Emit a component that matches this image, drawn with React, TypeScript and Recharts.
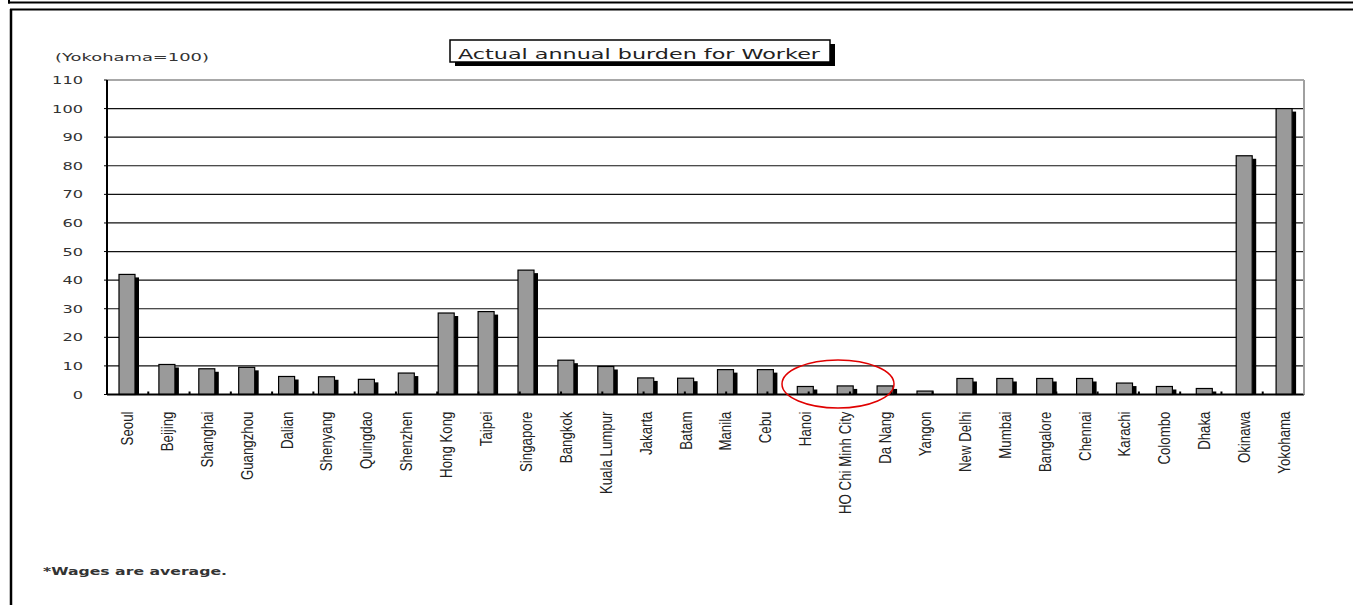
import { Bar, BarChart, CartesianGrid, ReferenceLine, XAxis, YAxis } from "recharts";

const cities = [
  "Seoul", "Beijing", "Shanghai", "Guangzhou", "Dalian", "Shenyang", "Quingdao", "Shenzhen",
  "Hong Kong", "Taipei", "Singapore", "Bangkok", "Kuala Lumpur", "Jakarta", "Batam", "Manila",
  "Cebu", "Hanoi", "HO Chi Minh City", "Da Nang", "Yangon", "New Delhi", "Mumbai", "Bangalore",
  "Chennai", "Karachi", "Colombo", "Dhaka", "Okinawa", "Yokohama"
];

// Yokohama = 100
const burden = [
  42, 10.5, 9, 9.5, 6.3, 6.2, 5.3, 7.5,
  28.5, 29, 43.5, 12, 9.8, 5.8, 5.7, 8.7,
  8.7, 2.8, 3, 3, 1.2, 5.6, 5.6, 5.6,
  5.6, 4, 2.8, 2.1, 83.5, 100
];

const yTicks = [0, 10, 20, 30, 40, 50, 60, 70, 80, 90, 100, 110];
// category boundaries, used for the little tick marks between bars
const boundaryTicks = [1, 2, 3, 4, 5, 6, 7, 8, 9, 10, 11, 12, 13, 14, 15, 16, 17, 18, 19, 20, 21, 22, 23, 24, 25, 26, 27, 28, 29];

const data = cities.map((city, i) => ({ city, value: burden[i] }));

const W = 1353;
const H = 605;

function ShadowBar(props: any) {
  const { x, y, width, height } = props;
  if (!height || height <= 0) return <g />;
  const sy = Math.min(3, height);
  return (
    <g>
      <rect x={x + width} y={y + sy} width={4} height={Math.max(0, height - sy)} fill="#000" />
      <rect x={x} y={y} width={width} height={height} fill="#9a9a9a" stroke="#000" strokeWidth={1.2} />
    </g>
  );
}

function CityTick(props: any) {
  const { x, y, payload } = props;
  return (
    <text
      transform={`translate(${x + 6},${y + 9}) rotate(-90) scale(0.83,1)`}
      textAnchor="end"
      fontSize={16}
      fontFamily="'Liberation Sans', Arial, sans-serif"
      fill="#222"
    >
      {payload.value}
    </text>
  );
}

function ValueTick(props: any) {
  const { x, y, payload } = props;
  const label = String(payload.value);
  return (
    <text
      x={x}
      y={y}
      dy={4}
      textAnchor="end"
      fontSize={11}
      fontFamily="'DejaVu Sans', sans-serif"
      fill="#333"
      textLength={label.length * 10.3}
      lengthAdjust="spacingAndGlyphs"
    >
      {label}
    </text>
  );
}

const Empty = () => <g />;

export default function App() {
  return (
    <div style={{ position: "absolute", left: 0, top: 0, width: W, height: H, background: "#fff" }}>
      <BarChart width={W} height={H} data={data} margin={{ top: 80, right: 39, left: 47, bottom: 90.5 }}>
        <CartesianGrid xAxisId="c" yAxisId="l" vertical={false} stroke="#111" strokeWidth={1.2} />
        <XAxis
          xAxisId="c"
          dataKey="city"
          interval={0}
          height={120}
          axisLine={{ stroke: "#000", strokeWidth: 2 }}
          tickLine={false}
          tickSize={0}
          tickMargin={8}
          tick={<CityTick />}
        />
        <XAxis
          xAxisId="b"
          type="number"
          domain={[0, cities.length]}
          ticks={boundaryTicks}
          mirror
          height={1}
          axisLine={false}
          tickLine={{ stroke: "#000", strokeWidth: 2 }}
          tickSize={3}
          tick={Empty}
        />
        <YAxis
          yAxisId="l"
          width={60}
          domain={[0, 110]}
          ticks={yTicks}
          interval={0}
          axisLine={{ stroke: "#000", strokeWidth: 2 }}
          tickLine={{ stroke: "#000" }}
          tickSize={3}
          tickMargin={21}
          tick={<ValueTick />}
        />
        <YAxis
          yAxisId="r"
          orientation="right"
          width={10}
          domain={[0, 110]}
          ticks={yTicks}
          interval={0}
          axisLine={{ stroke: "#a0a0a0", strokeWidth: 2 }}
          tickLine={{ stroke: "#000" }}
          tickSize={3}
          tick={Empty}
        />
        <ReferenceLine xAxisId="c" yAxisId="l" y={110} stroke="#a8a8a8" strokeWidth={2} />
        <Bar
          xAxisId="c"
          yAxisId="l"
          dataKey="value"
          barSize={16}
          shape={<ShadowBar />}
          isAnimationActive={false}
        />
      </BarChart>

      <svg width={W} height={H} style={{ position: "absolute", left: 0, top: 0, pointerEvents: "none" }}>
        {/* page frame */}
        <line x1={8} y1={2.5} x2={W} y2={2.5} stroke="#000" strokeWidth={2} />
        <line x1={9} y1={0} x2={9} y2={3.5} stroke="#000" strokeWidth={2} />
        <line x1={10} y1={9.5} x2={W} y2={9.5} stroke="#000" strokeWidth={2} />
        <line x1={11} y1={9} x2={11} y2={H} stroke="#000" strokeWidth={2.5} />

        <text
          x={55}
          y={60.5}
          fontSize={11}
          fontFamily="'DejaVu Sans', sans-serif"
          fill="#333"
          textLength={154}
          lengthAdjust="spacingAndGlyphs"
        >
          (Yokohama=100)
        </text>

        {/* title box with shadow */}
        <rect x={455} y={44} width={380} height={22} fill="#000" />
        <rect x={450} y={40} width={380} height={22} fill="#fff" stroke="#000" strokeWidth={1.5} />
        <text
          x={458}
          y={58.5}
          fontSize={14}
          fontFamily="'DejaVu Sans', sans-serif"
          fill="#222"
          textLength={362}
          lengthAdjust="spacingAndGlyphs"
        >
          Actual annual burden for Worker
        </text>

        <ellipse cx={838} cy={384} rx={56} ry={24} fill="none" stroke="#e00000" strokeWidth={1.5} />

        <text
          x={43}
          y={575}
          fontSize={11}
          fontWeight="bold"
          fontFamily="'DejaVu Sans', sans-serif"
          fill="#333"
          textLength={184}
          lengthAdjust="spacingAndGlyphs"
        >
          *Wages are average.
        </text>
      </svg>
    </div>
  );
}
